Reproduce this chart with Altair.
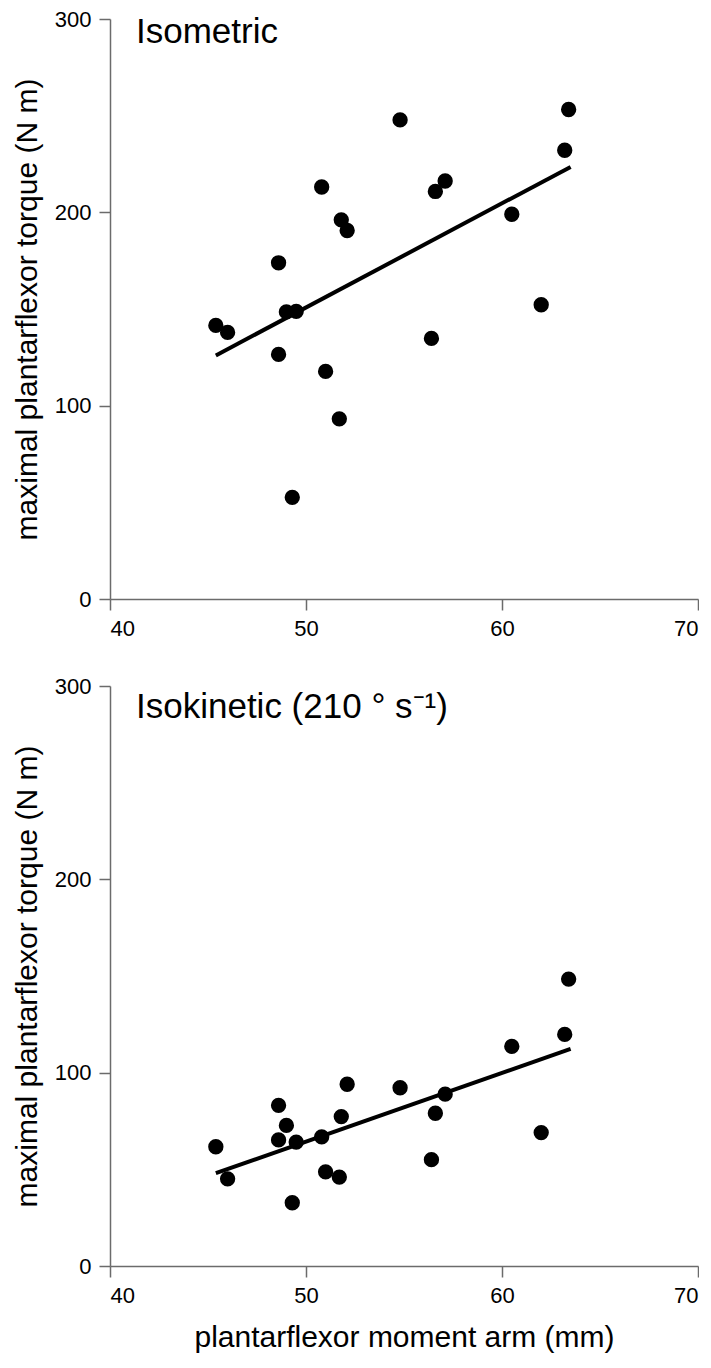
import altair as alt
import pandas as pd

# moment arm (mm), same subjects in both panels
moment_arm = [45.4, 46.0, 48.6, 48.6, 49.0, 49.3, 49.5, 50.8, 51.0, 51.7,
              51.8, 52.1, 54.8, 56.4, 56.6, 57.1, 60.5, 62.0, 63.2, 63.4]
torque_isometric = [141.5, 137.9, 173.9, 126.5, 148.5, 52.6, 148.8, 213.1, 117.7, 93.2,
                    196.1, 190.6, 247.8, 134.8, 210.8, 216.2, 199.0, 152.2, 232.1, 253.2]
torque_isokinetic = [61.7, 45.1, 83.1, 65.2, 72.7, 32.7, 64.1, 66.8, 48.7, 46.0,
                     77.3, 94.0, 92.2, 55.0, 79.0, 88.9, 113.6, 69.0, 119.8, 148.4]

# fitted regression line end points
fit_x = [45.4, 63.5]
fit_isometric = [126.0, 223.5]
fit_isokinetic = [48.0, 112.3]

x_ticks = [40, 50, 60, 70]
y_ticks = [0, 100, 200, 300]

panel_titles = ["Isometric", "Isokinetic (210 \u00b0 s\u207b\u00b9)"]

FONT = "Liberation Sans"
W, H = 588, 580


def panel(yvals, fity, title, show_xtitle, title_y):
    df = pd.DataFrame({"x": moment_arm, "y": yvals})
    dfit = pd.DataFrame({"x": fit_x, "y": fity})
    xaxis = alt.Axis(values=x_ticks, title="plantarflexor moment arm (mm)" if show_xtitle else None)
    xs = alt.X("x:Q", scale=alt.Scale(domain=[40, 70], nice=False, zero=False), axis=xaxis)
    ys = alt.Y("y:Q", scale=alt.Scale(domain=[0, 300], nice=False),
               axis=alt.Axis(values=y_ticks, title="maximal plantarflexor torque (N m)"))
    pts = alt.Chart(df).mark_circle(size=235, color="black", opacity=1).encode(x=xs, y=ys)
    line = alt.Chart(dfit).mark_line(color="black", strokeWidth=4).encode(x=xs, y=ys)
    txt = alt.Chart(pd.DataFrame({"t": [title]})).mark_text(
        align="left", baseline="alphabetic", font=FONT, fontSize=35, color="black"
    ).encode(x=alt.value(26), y=alt.value(title_y), text="t:N")
    return alt.layer(line, pts, txt).properties(width=W, height=H)


top = panel(torque_isometric, fit_isometric, panel_titles[0], False, 24)
bottom = panel(torque_isokinetic, fit_isokinetic, panel_titles[1], True, 32)

chart = alt.vconcat(top, bottom, spacing=87, bounds="flush").properties(
    padding={"top": 0, "left": 4, "right": 0, "bottom": 4}
).configure_view(stroke=None).configure_axis(
    grid=False,
    domainColor="#6b6b6b", tickColor="#6b6b6b",
    domainWidth=1.5, tickWidth=1.5, tickSize=11,
    labelFont=FONT, labelFontSize=22, labelColor="black", labelPadding=8,
    titleFont=FONT, titleFontSize=30, titleFontWeight="normal", titleColor="black",
).configure_axisY(titlePadding=12).configure_axisX(titlePadding=16)

chart.save("out.html", embed_options={"renderer": "svg", "actions": False})
